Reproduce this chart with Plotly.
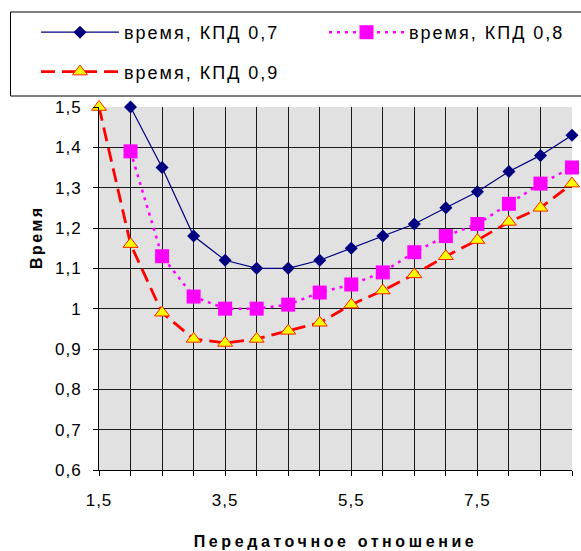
import plotly.graph_objects as go

# ---- data ----
x_ratio = [1.5, 2.0, 2.5, 3.0, 3.5, 4.0, 4.5, 5.0, 5.5, 6.0, 6.5, 7.0, 7.5, 8.0, 8.5, 9.0]
time_kpd_07 = [None, 1.50, 1.35, 1.18, 1.12, 1.10, 1.10, 1.12, 1.15, 1.18, 1.21, 1.25, 1.29, 1.34, 1.38, 1.43]
time_kpd_08 = [None, 1.39, 1.13, 1.03, 1.00, 1.00, 1.01, 1.04, 1.06, 1.09, 1.14, 1.18, 1.21, 1.26, 1.31, 1.35]
time_kpd_09 = [1.50, 1.16, 0.99, 0.925, 0.915, 0.925, 0.945, 0.965, 1.01, 1.045, 1.085, 1.13, 1.17, 1.215, 1.25, 1.31]

series_names = ["время, КПД 0,7", "время, КПД 0,8", "время, КПД 0,9"]
x_tick_labels = ["1,5", "", "", "", "3,5", "", "", "", "5,5", "", "", "", "7,5", "", "", ""]
y_tick_values = [0.6, 0.7, 0.8, 0.9, 1.0, 1.1, 1.2, 1.3, 1.4, 1.5]
y_tick_labels = ["0,6", "0,7", "0,8", "0,9", "1", "1,1", "1,2", "1,3", "1,4", "1,5"]
x_title = "Передаточное отношение"
y_title = "Время"

FONT = "Liberation Sans, Arial, sans-serif"


def spaced(t, px):
    return f'<span style="letter-spacing:{px}px">{t}</span>' if t else t


fig = go.Figure()

fig.add_trace(go.Scatter(
    x=x_ratio, y=time_kpd_07, name=spaced(series_names[0], 2), mode="lines+markers",
    line=dict(color="#000080", width=1.2),
    marker=dict(symbol="diamond", size=10, color="#000080"),
    cliponaxis=False, legend="legend", legendgroup="a",
))
fig.add_trace(go.Scatter(
    x=x_ratio, y=time_kpd_08, name=spaced(series_names[1], 2), mode="lines+markers",
    line=dict(color="#FF00FF", width=2.5, dash="3px,5px"),
    marker=dict(symbol="square", size=14, color="#FF00FF"),
    cliponaxis=False, legend="legend2", legendgroup="b",
))
fig.add_trace(go.Scatter(
    x=x_ratio, y=time_kpd_09, name=spaced(series_names[2], 2), mode="lines+markers",
    line=dict(color="#FF0000", width=2.8, dash="14px,7px"),
    marker=dict(symbol="triangle-up", size=13, color="#FFFF00",
                line=dict(color="#FF2000", width=1)),
    cliponaxis=False, legend="legend", legendgroup="c",
))

L, R, T, B = 99, 9, 107, 81
W, H = 581, 551
pw = W - L - R
ph = H - T - B


def px_x(p):
    return (p - L) / pw


def px_y(p):
    return (H - B - p) / ph


fig.update_layout(
    width=W, height=H,
    margin=dict(l=L, r=R, t=T, b=B, pad=0, autoexpand=False),
    paper_bgcolor="white",
    plot_bgcolor="#E1E1E1",
    font=dict(family=FONT, size=17, color="black"),
    showlegend=True,
    legend=dict(
        x=px_x(36), y=px_y(14), xanchor="left", yanchor="top",
        orientation="v", bgcolor="rgba(0,0,0,0)", borderwidth=0,
        font=dict(family=FONT, size=18, color="black"),
        itemwidth=78, traceorder="grouped", tracegroupgap=13,
    ),
    legend2=dict(
        x=px_x(324), y=px_y(14), xanchor="left", yanchor="top",
        orientation="v", bgcolor="rgba(0,0,0,0)", borderwidth=0,
        font=dict(family=FONT, size=18, color="black"),
        itemwidth=75,
    ),
    xaxis=dict(
        range=[1.5, 9.0], tickmode="array", tickvals=x_ratio,
        ticktext=[spaced(t, 1) for t in x_tick_labels],
        showgrid=True, gridcolor="#1A1A1A", gridwidth=1,
        showline=True, linecolor="black", linewidth=1,
        ticks="outside", ticklen=5, tickcolor="black",
        ticklabelstandoff=10, zeroline=False,
        title=dict(text=spaced(x_title, 3.6), font=dict(family=FONT, size=16, weight="bold"), standoff=26),
    ),
    yaxis=dict(
        range=[0.6, 1.5], tickmode="array", tickvals=y_tick_values,
        ticktext=[spaced(t, 1) for t in y_tick_labels],
        showgrid=True, gridcolor="#1A1A1A", gridwidth=1,
        showline=True, linecolor="black", linewidth=1,
        ticks="outside", ticklen=5, tickcolor="black",
        ticklabelstandoff=8, zeroline=False,
    ),
    annotations=[dict(
        text=spaced(y_title, 2.5), textangle=-90, showarrow=False,
        xref="paper", yref="paper", x=px_x(37), y=px_y(237),
        xanchor="center", yanchor="middle",
        font=dict(family=FONT, size=16, color="black", weight="bold"),
    )],
    shapes=[dict(
        type="rect", xref="paper", yref="paper",
        x0=px_x(10.5), x1=px_x(600), y0=px_y(96), y1=px_y(12),
        line=dict(color="black", width=1), fillcolor="rgba(0,0,0,0)", layer="above",
    )],
)

fig.write_html("out.html", config={"displayModeBar": False},
               post_script="document.body.style.margin='0';")
